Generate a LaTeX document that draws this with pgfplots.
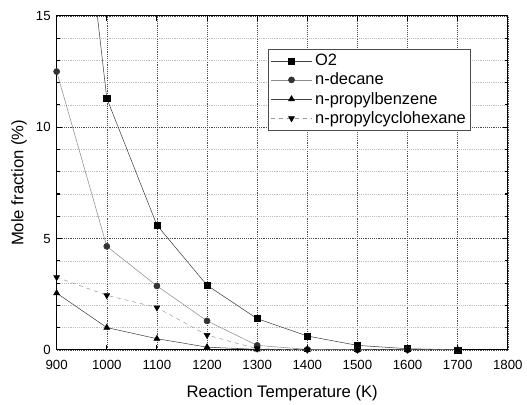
\documentclass[border=0pt]{standalone}
\usepackage{pgfplots}
\pgfplotsset{compat=1.18}
\usepackage{fontspec}
\setmainfont{Liberation Sans}
\begin{document}
\begin{tikzpicture}
\begin{axis}[
  name=ax,
  scale only axis,
  width=340.5pt, height=252pt,
  xmin=900, xmax=1800, ymin=0, ymax=15,
  xtick={900,1000,...,1800},
  ytick={0,5,10,15},
  minor ytick={1,2,3,4,6,7,8,9,11,12,13,14},
  tick align=inside,
  tick style={black, thick},
  major tick length=4pt, minor tick length=2.5pt,
  grid=both,
  major grid style={black!70, densely dotted},
  minor grid style={black!25, densely dotted},
  axis line style={black, thick},
  /pgf/number format/assume math mode=true,
  /pgf/number format/set thousands separator={},
  tick label style={font=\fontsize{10}{11}\selectfont},
  xticklabel style={yshift=-4pt},
  yticklabel style={xshift=-1pt},
  label style={font=\fontsize{12.6}{14}\selectfont},
  xlabel={Reaction Temperature (K)},
  ylabel={Mole fraction (\%)},
  xlabel style={yshift=-5pt},
  ylabel style={yshift=0pt},
  clip=true,
  legend style={at={(0.469,0.9)}, anchor=north west, draw=black!70, font=\fontsize{12.4}{13}\selectfont, row sep=0pt, inner sep=1.5pt},
  legend cell align=left,
  legend image code/.code={\draw[mark repeat=2,mark phase=2] plot coordinates {(0cm,0cm)(0.55cm,0cm)(1.1cm,0cm)};},
]
\addplot[black!75, mark=square*, mark size=2.3pt, mark options={solid, black}] coordinates {
 (900,31) (1000,11.3) (1100,5.6) (1200,2.9) (1300,1.4) (1400,0.62) (1500,0.2) (1600,0.05) (1700,0.0)};
\addlegendentry{O2}
\addplot[black!45, mark=*, mark size=2.3pt, mark options={solid, black!80}] coordinates {
 (900,12.5) (1000,4.65) (1100,2.87) (1200,1.3) (1300,0.2) (1400,0.02) (1500,0) (1600,0) (1700,0)};
\addlegendentry{n-decane}
\addplot[black!75, mark=triangle*, mark size=2.6pt, mark options={solid, black}] coordinates {
 (900,2.55) (1000,1.0) (1100,0.5) (1200,0.12) (1300,0.02) (1400,0) (1500,0) (1600,0) (1700,0)};
\addlegendentry{n-propylbenzene}
\addplot[black!40, dashed, mark=triangle*, mark size=2.6pt, mark options={solid, black, rotate=180}] coordinates {
 (900,3.26) (1000,2.45) (1100,1.9) (1200,0.66) (1300,0.05) (1400,0) (1500,0) (1600,0) (1700,0)};
\addlegendentry{n-propylcyclohexane}
\end{axis}
\path ([yshift=12pt]ax.north east);
\path ([xshift=-42.75pt]ax.south west);
\path ([yshift=-39pt]ax.south west);
\end{tikzpicture}
\end{document}
